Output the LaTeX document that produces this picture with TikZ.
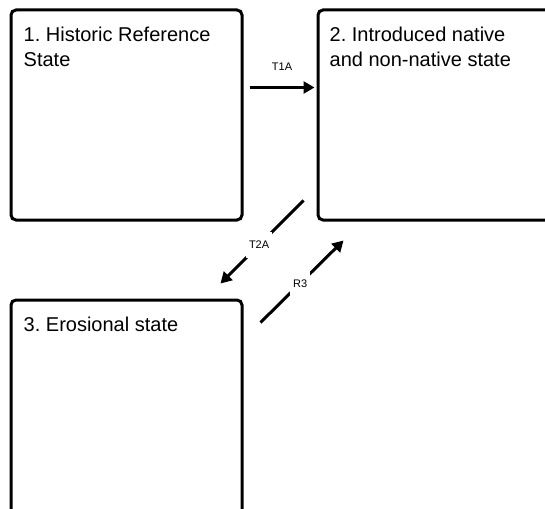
\documentclass[tikz,border=0pt]{standalone}
\usepackage{fontspec}
\setmainfont{Liberation Sans}
\usetikzlibrary{arrows.meta,calc}
\frenchspacing
\begin{document}
\begin{tikzpicture}[x=1pt,y=-1pt,
  statebox/.style={draw=black, line width=3pt, rounded corners=5pt, inner sep=0pt},
  boxtext/.style={anchor=base west, align=left, inner sep=0pt, font=\fontsize{20}{25}\selectfont},
  conn/.style={line width=3pt, -{Triangle[length=11pt,width=12pt]}},
  lab/.style={font=\fontsize{11}{13}\selectfont, fill=white, inner xsep=3pt, inner ysep=9pt},
  toplab/.style={font=\fontsize{11}{13}\selectfont, inner sep=0pt}
]
\useasboundingbox (0,0) rectangle (545,508);
\clip (0,0) rectangle (545,508);

\node[statebox, minimum width=231pt, minimum height=210pt] (b1) at (126.5,115) {};
\node[statebox, minimum width=252pt, minimum height=210pt] (b2) at (444,115) {};
\node[statebox, minimum width=231pt, minimum height=230pt] (b3) at (126.5,415) {};

\node[boxtext] (t1) at ($(b1.north west)+(14,58)$) {1. Historic Reference\\State};
\node[boxtext] (t2) at ($(b2.north west)+(13,58)$) {2. Introduced native\\and non-native state};
\node[boxtext] (t3) at ($(b3.north west)+(14,33)$) {3. Erosional state};

\coordinate (t1s) at ($(b1.north east)+(6,79)$);
\coordinate (t1e) at ($(b2.north west)+(-2,79)$);
\coordinate (t2s) at ($(b2.south west)+(-13,-21)$);
\coordinate (t2e) at ($(b3.north east)+(-23,-15)$);
\coordinate (r3s) at ($(b3.north east)+(17,24)$);
\coordinate (r3e) at ($(b2.south west)+(27,19)$);

\draw[conn] (t1s) -- node[toplab, midway, above=15pt] (l1) {T1A} (t1e);
\draw[conn] (t2s) -- node[lab, pos=0.535] (l2) {T2A} (t2e);
\draw[conn] (r3s) -- node[lab, pos=0.477] (l3) {R3} (r3e);
\end{tikzpicture}
\end{document}
